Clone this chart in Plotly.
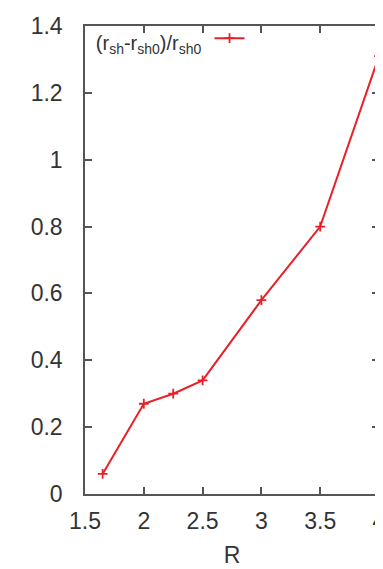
import plotly.graph_objects as go

R = [1.65, 2.0, 2.25, 2.5, 3.0, 3.5, 4.0]
rel = [0.06, 0.27, 0.30, 0.34, 0.58, 0.80, 1.31]
x_ticks = [1.5, 2, 2.5, 3, 3.5, 4]
y_ticks = [0, 0.2, 0.4, 0.6, 0.8, 1.0, 1.2, 1.4]
y_labels = ["0", "0.2", "0.4", "0.6", "0.8", "1", "1.2", "1.4"]

red = "#e8202a"
axc = "#555555"
font = "Liberation Sans, Arial, sans-serif"

fig = go.Figure()
fig.add_trace(go.Scatter(
    x=R, y=rel, mode="lines+markers", name=" ",
    line=dict(color=red, width=2),
    marker=dict(symbol="cross-thin", size=7, line=dict(color=red, width=1.8), color=red),
))

fig.update_layout(
    width=383, height=569,
    margin=dict(l=77, r=5, t=16, b=83),
    plot_bgcolor="white", paper_bgcolor="white",
    font=dict(family=font, color="#333333"),
    showlegend=True,
    legend=dict(
        x=0.03, y=1.005, xanchor="left", yanchor="top",
        bgcolor="rgba(0,0,0,0)",
        title=dict(text="(r<sub>sh</sub>-r<sub>sh0</sub>)/r<sub>sh0</sub>", side="left",
                   font=dict(size=20, color="#333333")),
        font=dict(size=6),
        itemwidth=30,
    ),
    xaxis=dict(
        range=[1.5, 4], tickvals=x_ticks, ticktext=[str(v) for v in x_ticks],
        ticks="inside", ticklen=7, tickwidth=1.5, tickcolor=axc,
        showline=True, linecolor=axc, linewidth=1.5, mirror="ticks",
        showgrid=False, zeroline=False, ticklabelstandoff=6,
        tickfont=dict(size=23, color="#333333"),
        title=dict(text="R", font=dict(size=23, color="#333333"), standoff=14),
    ),
    yaxis=dict(
        range=[0, 1.4], tickvals=y_ticks, ticktext=y_labels,
        ticks="inside", ticklen=7, tickwidth=1.5, tickcolor=axc,
        showline=True, linecolor=axc, linewidth=1.5, mirror="ticks",
        showgrid=False, zeroline=False, ticklabelstandoff=16,
        tickfont=dict(size=23, color="#333333"),
    ),
)

fig.write_html("out.html")
